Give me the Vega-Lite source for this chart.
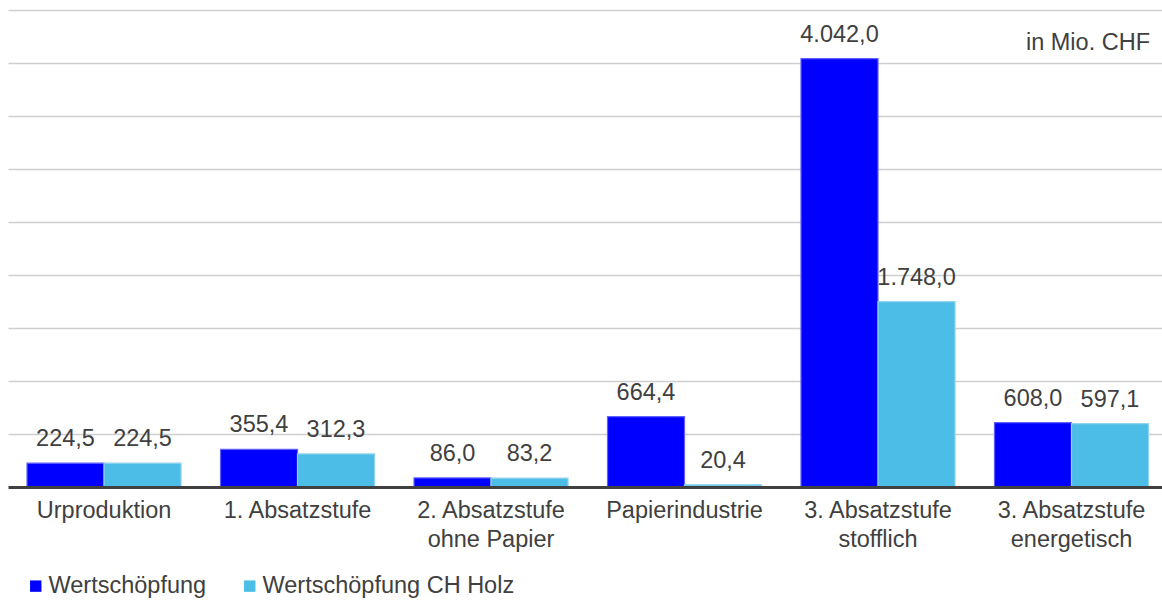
{
  "$schema": "https://vega.github.io/schema/vega-lite/v6.json",
  "autosize": {"type": "none"},
  "width": 1154,
  "height": 477,
  "padding": {"left": 8, "top": 10, "right": 0, "bottom": 114},
  "background": "white",
  "config": {
    "locale": {"number": {"decimal": ",", "thousands": ".", "grouping": [3], "currency": ["", " CHF"]}},
    "font": "Liberation Sans",
    "view": {"stroke": null},
    "text": {"font": "Liberation Sans"}
  },
  "title": {
    "text": "in Mio. CHF",
    "anchor": "end",
    "orient": "top",
    "dy": 48,
    "dx": -12,
    "fontSize": 23.5,
    "fontWeight": "normal",
    "color": "#404040",
    "font": "Liberation Sans"
  },
  "data": {
    "values": [
      {"stufe": "Urproduktion", "serie": "Wertschöpfung", "wert": 224.5},
      {"stufe": "Urproduktion", "serie": "Wertschöpfung CH Holz", "wert": 224.5},
      {"stufe": "1. Absatzstufe", "serie": "Wertschöpfung", "wert": 355.4},
      {"stufe": "1. Absatzstufe", "serie": "Wertschöpfung CH Holz", "wert": 312.3},
      {"stufe": "2. Absatzstufe ohne Papier", "serie": "Wertschöpfung", "wert": 86.0},
      {"stufe": "2. Absatzstufe ohne Papier", "serie": "Wertschöpfung CH Holz", "wert": 83.2},
      {"stufe": "Papierindustrie", "serie": "Wertschöpfung", "wert": 664.4},
      {"stufe": "Papierindustrie", "serie": "Wertschöpfung CH Holz", "wert": 20.4},
      {"stufe": "3. Absatzstufe stofflich", "serie": "Wertschöpfung", "wert": 4042.0},
      {"stufe": "3. Absatzstufe stofflich", "serie": "Wertschöpfung CH Holz", "wert": 1748.0},
      {"stufe": "3. Absatzstufe energetisch", "serie": "Wertschöpfung", "wert": 608.0},
      {"stufe": "3. Absatzstufe energetisch", "serie": "Wertschöpfung CH Holz", "wert": 597.1}
    ]
  },
  "encoding": {
    "x": {
      "field": "stufe",
      "type": "nominal",
      "sort": null,
      "title": null,
      "scale": {"paddingInner": 0.204, "paddingOuter": 0.084, "align": 0.585},
      "axis": {
        "zindex": 1,
        "labelAngle": 0,
        "labelFontSize": 23.5,
        "labelColor": "#404040",
        "labelFont": "Liberation Sans",
        "labelPadding": 11,
        "labelLineHeight": 29,
        "labelExpr": "split(replace(replace(replace(datum.label, ' ohne', '|ohne'), ' stofflich', '|stofflich'), ' energetisch', '|energetisch'), '|')",
        "ticks": false,
        "domainColor": "#404040",
        "domainWidth": 3,
        "grid": false
      }
    },
    "xOffset": {"field": "serie", "type": "nominal", "scale": {"paddingInner": 0}},
    "y": {
      "field": "wert",
      "type": "quantitative",
      "title": null,
      "scale": {"domain": [0, 4500], "nice": false},
      "axis": {
        "values": [500, 1000, 1500, 2000, 2500, 3000, 3500, 4000, 4500],
        "labels": false,
        "ticks": false,
        "domain": false,
        "gridColor": "#cfcfcf",
        "gridWidth": 1.3
      }
    }
  },
  "layer": [
    {
      "mark": {"type": "bar", "strokeWidth": 1.2},
      "encoding": {
        "color": {
          "field": "serie",
          "type": "nominal",
          "scale": {"domain": ["Wertschöpfung", "Wertschöpfung CH Holz"], "range": ["#0000FF", "#4BBDE6"]},
          "legend": {
            "title": null,
            "orient": "none",
            "direction": "horizontal",
            "legendX": 16,
            "legendY": 564,
            "symbolType": "square",
            "symbolSize": 130,
            "symbolStrokeWidth": 0,
            "labelFontSize": 23.5,
            "labelColor": "#404040",
            "labelFont": "Liberation Sans",
            "labelLimit": 400,
            "labelOffset": 1,
            "columnPadding": 31
          }
        },
        "stroke": {
          "field": "serie",
          "type": "nominal",
          "scale": {"domain": ["Wertschöpfung", "Wertschöpfung CH Holz"], "range": ["#6060FF", "#8fd4ee"]},
          "legend": null
        }
      }
    },
    {
      "mark": {"type": "text", "baseline": "alphabetic", "dy": -17, "fontSize": 23.5, "color": "#404040", "font": "Liberation Sans"},
      "encoding": {
        "text": {"field": "wert", "type": "quantitative", "format": ",.1f"}
      }
    }
  ]
}
